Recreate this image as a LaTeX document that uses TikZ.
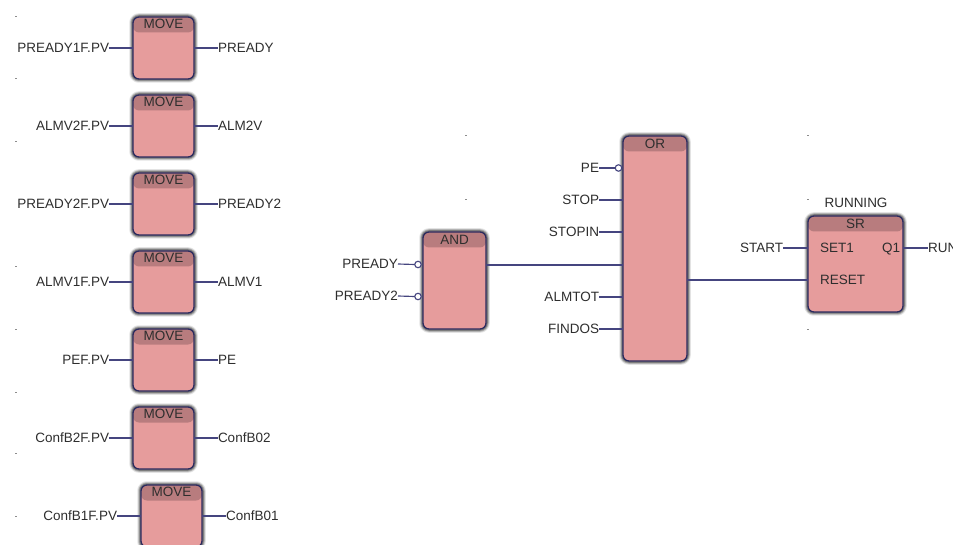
\documentclass[tikz,border=0pt]{standalone}
\usepackage{fontspec}
\setmainfont{Liberation Sans}
\definecolor{bodyred}{HTML}{E69C9C}
\definecolor{headred}{HTML}{B87C7E}
\definecolor{edgeblue}{HTML}{2B2A5E}
\definecolor{wireblue}{HTML}{45457F}
\definecolor{inktext}{HTML}{2E2E2E}
\definecolor{glowgray}{HTML}{3A3A3A}
\tikzset{
  fb/.style={rectangle, rounded corners=6pt, draw=edgeblue, line width=1.3pt, fill=bodyred,
    inner sep=0pt, outer sep=0pt,
    preaction={draw=glowgray, line width=7.5pt, opacity=.14},
    preaction={draw=glowgray, line width=5.5pt, opacity=.28},
    preaction={draw=glowgray, line width=3.5pt, opacity=.45},
    path picture={\fill[headred] (path picture bounding box.north west) rectangle
      ([yshift=-15.5pt]path picture bounding box.north east);}},
  txt/.style={font=\fontsize{13.5pt}{14pt}\selectfont, text=inktext, inner sep=0pt, outer sep=0pt,
    text height=9.6pt, text depth=0pt},
  wire/.style={draw=wireblue, line width=1.15pt},
  negpin/.style={circle, draw=wireblue, fill=white, line width=1.1pt, minimum size=6.5pt, inner sep=0pt, outer sep=0pt},
  speck/.style={fill=black!45}
}
\newcommand{\moveblock}[5]{%
  \node[fb, minimum width=61pt, minimum height=62pt] (#1) at (#2+30.5,#3) {};
  \node[txt] (#1t) at (#2+30.5,#3-24) {MOVE};
  \node[txt, anchor=east] (#1l) at (#2-24,#3) {#4};
  \node[txt, anchor=west] (#1r) at (#2+85,#3) {#5};
  \draw[wire] (#1l.east) -- (#1.west);
  \draw[wire] (#1.east) -- (#1r.west);
}
\begin{document}
\begin{tikzpicture}[x=1pt,y=-1pt]
\useasboundingbox (0,0) rectangle (953,545);
\fill[white] (0,0) rectangle (953,545);
% grid specks
\foreach \px/\py in {16/17,16/79,16/142,16/267,16/329,16/392,16/453,16/516,466/136,466/200,808/136,808/200,808/329}
  \fill[speck] (\px-.7,\py-.5) rectangle (\px+.7,\py+.5);
% MOVE column
\moveblock{ma}{133}{48}{PREADY1F.PV}{PREADY}
\moveblock{mb}{133}{126}{ALMV2F.PV}{ALM2V}
\moveblock{mc}{133}{204}{PREADY2F.PV}{PREADY2}
\moveblock{md}{133}{282}{ALMV1F.PV}{ALMV1}
\moveblock{me}{133}{360}{PEF.PV}{PE}
\moveblock{mf}{133}{438}{ConfB2F.PV}{ConfB02}
\moveblock{mg}{141}{516}{ConfB1F.PV}{ConfB01}
% AND
\node[fb, minimum width=63pt, minimum height=97pt] (andb) at (454.5,280.5) {};
\node[txt] (andt) at (454.5,240) {AND};
\node[txt, anchor=east] (anda) at (398,264) {PREADY};
\node[txt, anchor=east] (andc) at (398,296) {PREADY2};
\node[negpin] (andan) at (418,264.5) {};
\node[negpin] (andcn) at (418,296.5) {};
\draw[wire] (anda.east) -- (andan.west);
\draw[wire] (andc.east) -- (andcn.west);
% OR
\node[fb, minimum width=64pt, minimum height=225pt] (orb) at (655,248.5) {};
\node[txt] (ort) at (655,144) {OR};
\node[txt, anchor=east] (ora) at (599,168) {PE};
\node[txt, anchor=east] (orc) at (599,200) {STOP};
\node[txt, anchor=east] (ord) at (599,232) {STOPIN};
\node[txt, anchor=east] (ore) at (599,297) {ALMTOT};
\node[txt, anchor=east] (orf) at (599,329) {FINDOS};
\node[negpin] (oran) at (618.5,168) {};
\draw[wire] (ora.east) -- (oran.west);
\draw[wire] (orc.east) -- (orc.east -| orb.west);
\draw[wire] (ord.east) -- (ord.east -| orb.west);
\draw[wire] (ore.east) -- (ore.east -| orb.west);
\draw[wire] (orf.east) -- (orf.east -| orb.west);
\coordinate (andout) at (486,265);
\draw[wire] (andout) -- (andout -| orb.west);
% SR
\node[fb, minimum width=95pt, minimum height=96pt] (srb) at (855.5,264) {};
\node[txt] (srt) at (855.5,224) {SR};
\node[txt] (srn) at (856,203) {RUNNING};
\node[txt, anchor=west] (srs) at (820,248) {SET1};
\node[txt, anchor=west] (srr) at (820,280) {RESET};
\node[txt, anchor=east] (srq) at (900,248) {Q1};
\node[txt, anchor=east] (srl) at (783,248) {START};
\node[txt, anchor=west] (sro) at (928,248) {RUN};
\draw[wire] (srl.east) -- (srl.east -| srb.west);
\draw[wire] (srb.east |- sro.west) -- (sro.west);
\coordinate (orout) at (687,280);
\draw[wire] (orout) -- (orout -| srb.west);
\end{tikzpicture}
\end{document}
